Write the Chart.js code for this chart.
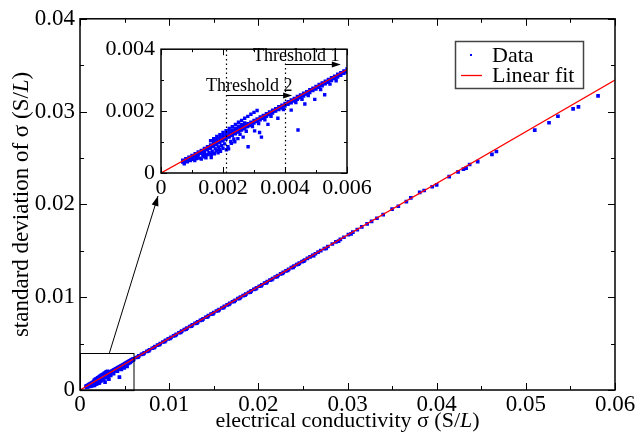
<!DOCTYPE html>
<html lang="en">
<head>
<meta charset="UTF-8">
<title>Conductivity vs standard deviation</title>
<script src="https://cdn.jsdelivr.net/npm/chart.js"></script>
<style>
  body { margin: 0; background: #fff; }
  #wrap { position: relative; width: 637px; height: 438px; }
  #mainCanvas { position: absolute; left: 0; top: 0; }
  #insetCanvas { position: absolute; left: 100px; top: 30px; }
</style>
</head>
<body>
<div id="wrap">
  <canvas id="mainCanvas" width="637" height="438"></canvas>
  <canvas id="insetCanvas" width="280" height="175"></canvas>
</div>
<script>
// ---- data: [sigma, std dev] ----
const bandPoints = [
  [0.0007,0.00041],[0.0007,0.00035],[0.0008,0.00046],[0.0008,0.00040],
  [0.0009,0.00051],[0.0009,0.00045],[0.0010,0.00057],[0.0010,0.00050],
  [0.0011,0.00062],[0.0011,0.00055],[0.0012,0.00068],[0.0012,0.00060],
  [0.0013,0.00073],[0.0013,0.00064],[0.0014,0.00079],[0.0014,0.00070],
  [0.0015,0.00085],[0.0015,0.00075],[0.0016,0.00091],[0.0016,0.00080],
  [0.0017,0.00097],[0.0017,0.00086],[0.0018,0.00103],[0.0018,0.00092],
  [0.0019,0.00109],[0.0019,0.00098],[0.0020,0.00115],[0.0020,0.00104],
  [0.0021,0.00120],[0.0021,0.00110],[0.0022,0.00126],[0.0022,0.00116],
  [0.0023,0.00131],[0.0023,0.00121],[0.0024,0.00137],[0.0024,0.00127],
  [0.0025,0.00142],[0.0025,0.00133],[0.0026,0.00148],[0.0026,0.00139],
  [0.0027,0.00153],[0.0027,0.00144],[0.0028,0.00159],[0.0028,0.00150],
  [0.0029,0.00164],[0.0029,0.00155],[0.0030,0.00170],[0.0030,0.00161],
  [0.0031,0.00175],[0.0031,0.00166],[0.0032,0.00181],[0.0032,0.00172],
  [0.0033,0.00186],[0.0033,0.00177],[0.0034,0.00192],[0.0034,0.00183],
  [0.0035,0.00197],[0.0035,0.00189],[0.0036,0.00203],[0.0036,0.00194],
  [0.0037,0.00208],[0.0037,0.00200],[0.0038,0.00214],[0.0038,0.00205],
  [0.0039,0.00219],[0.0039,0.00211],[0.0040,0.00225],[0.0040,0.00216],
  [0.0041,0.00230],[0.0041,0.00222],[0.0042,0.00236],[0.0042,0.00227],
  [0.0043,0.00241],[0.0043,0.00233],[0.0044,0.00247],[0.0044,0.00238],
  [0.0045,0.00252],[0.0045,0.00244],[0.0046,0.00258],[0.0046,0.00249],
  [0.0047,0.00263],[0.0047,0.00255],[0.0048,0.00269],[0.0048,0.00260],
  [0.0049,0.00274],[0.0049,0.00266],[0.0050,0.00280],[0.0050,0.00271],
  [0.0051,0.00286],[0.0051,0.00277],[0.0052,0.00291],[0.0052,0.00282],
  [0.0053,0.00297],[0.0053,0.00288],[0.0054,0.00302],[0.0054,0.00293],
  [0.0055,0.00308],[0.0055,0.00299],[0.0056,0.00313],[0.0056,0.00305],
  [0.0057,0.00319],[0.0057,0.00310],[0.0058,0.00324],[0.0058,0.00316],
  [0.0059,0.00330],[0.0059,0.00322],[0.0060,0.00336],[0.0060,0.00327]
];
// middle row of the band, on the half steps
const bandHalfPoints = [
  [0.00075,0.00039],[0.00085,0.00044],[0.00095,0.00050],[0.00105,0.00055],
  [0.00115,0.00061],[0.00125,0.00066],[0.00135,0.00072],[0.00145,0.00077],
  [0.00155,0.00083],[0.00165,0.00088],[0.00175,0.00094],[0.00185,0.00100],
  [0.00195,0.00105],[0.00205,0.00111],[0.00215,0.00117],[0.00225,0.00122],
  [0.00235,0.00128],[0.00245,0.00133],[0.00255,0.00139],[0.00265,0.00144],
  [0.00275,0.00150],[0.00285,0.00155],[0.00295,0.00161],[0.00305,0.00167],
  [0.00315,0.00172],[0.00325,0.00178],[0.00335,0.00183],[0.00345,0.00189],
  [0.00355,0.00194],[0.00365,0.00200],[0.00375,0.00206],[0.00385,0.00211],
  [0.00395,0.00217],[0.00405,0.00222],[0.00415,0.00228],[0.00425,0.00233],
  [0.00435,0.00239],[0.00445,0.00244],[0.00455,0.00250],[0.00465,0.00256],
  [0.00475,0.00261],[0.00485,0.00267],[0.00495,0.00272],[0.00505,0.00278],
  [0.00515,0.00283],[0.00525,0.00289],[0.00535,0.00294],[0.00545,0.00300],
  [0.00555,0.00306],[0.00565,0.00311],[0.00575,0.00317],[0.00585,0.00322],
  [0.00595,0.00328]
];
// the upper streak above the fit, between the two thresholds
const streakPoints = [
  [0.0016,0.00104],[0.0017,0.00111],[0.0018,0.00118],[0.0019,0.00124],
  [0.0020,0.00131],[0.0021,0.00137],[0.0022,0.00144],[0.0023,0.00150],
  [0.0024,0.00157],[0.0025,0.00164],[0.0026,0.00170],[0.0027,0.00177],
  [0.0028,0.00183],[0.0029,0.00190],[0.0030,0.00196],[0.0031,0.00202],
  [0.0017,0.00104],[0.0018,0.00110],[0.0019,0.00116],[0.0020,0.00122],
  [0.0021,0.00128],[0.0022,0.00134],[0.0023,0.00139],[0.0024,0.00145],
  [0.0025,0.00151],[0.0026,0.00157],[0.0027,0.00162]
];
// scatter below the fit
const lowPoints = [
  [0.00109,0.00040],[0.00125,0.00048],[0.00141,0.00052],[0.00152,0.00060],
  [0.00162,0.00060],[0.00168,0.00065],[0.00179,0.00072],[0.00189,0.00075],
  [0.00200,0.00080],[0.00211,0.00075],[0.00216,0.00085],[0.00227,0.00096],
  [0.00238,0.00101],[0.00218,0.00078],[0.00281,0.00085],[0.00318,0.00131],
  [0.00324,0.00116],[0.00442,0.00139],[0.00141,0.00060],[0.00119,0.00055],
  [0.00130,0.00045],[0.00162,0.00050],[0.00184,0.00065],[0.00248,0.00111],
  [0.00265,0.00116],[0.00302,0.00136],[0.00345,0.00157],[0.00377,0.00177],
  [0.00420,0.00203],[0.00464,0.00223],[0.00496,0.00238],[0.00528,0.00253],
  [0.00075,0.00030],[0.00085,0.00036],[0.00095,0.00040],[0.00105,0.00044],
  [0.00115,0.00047],[0.00135,0.00055],[0.00145,0.00058],[0.00155,0.00066],
  [0.00165,0.00070],[0.00175,0.00078],[0.00185,0.00084],[0.00195,0.00088],
  [0.00205,0.00094],[0.00145,0.00049],[0.00172,0.00062],[0.00192,0.00070],
  [0.00225,0.00102],[0.00235,0.00110],[0.00255,0.00125],[0.00275,0.00135],
  [0.00295,0.00150],[0.00315,0.00160],[0.00335,0.00172],[0.00355,0.00183],
  [0.00395,0.00205],[0.00435,0.00228],[0.00455,0.00238],[0.00475,0.00250],
  [0.00515,0.00270],[0.00545,0.00287],[0.00565,0.00298]
];
const midPoints = [
  [0.0063,0.00350],[0.0066,0.00367],[0.0069,0.00384],[0.0072,0.00400],
  [0.0075,0.00417],[0.0078,0.00434],[0.0081,0.00450],[0.0084,0.00467],
  [0.0087,0.00484],[0.0090,0.00500],[0.0093,0.00517],[0.0096,0.00534],
  [0.0099,0.00550],[0.0102,0.00567],[0.0105,0.00584],[0.0108,0.00600],
  [0.0111,0.00617],[0.0114,0.00634],[0.0117,0.00651],[0.0120,0.00667],
  [0.0123,0.00684],[0.0126,0.00701],[0.0129,0.00717],[0.0132,0.00734],
  [0.0135,0.00751],[0.0138,0.00767],[0.0141,0.00784],[0.0144,0.00801],
  [0.0147,0.00817],[0.0150,0.00834],[0.0153,0.00851],[0.0156,0.00867],
  [0.0159,0.00884],[0.0162,0.00901],[0.0165,0.00917],[0.0168,0.00934],
  [0.0171,0.00951],[0.0174,0.00967],[0.0177,0.00984],[0.0180,0.01001],
  [0.0183,0.01017],[0.0186,0.01034],[0.0189,0.01051],[0.0192,0.01068],
  [0.0195,0.01084],[0.0198,0.01101],[0.0201,0.01118],[0.0204,0.01134],
  [0.0207,0.01151],[0.0210,0.01168],[0.0213,0.01184],[0.0216,0.01201],
  [0.0219,0.01218],[0.0222,0.01234],[0.0225,0.01251],[0.0228,0.01268],
  [0.0231,0.01284],[0.0234,0.01301],[0.0237,0.01318],[0.0240,0.01334],
  [0.0243,0.01351],[0.0246,0.01368],[0.0249,0.01384],[0.0252,0.01401],
  [0.0255,0.01418],[0.0258,0.01434],[0.0261,0.01451],[0.0264,0.01468],
  [0.0267,0.01485],[0.0270,0.01501],[0.0274,0.01523],[0.0278,0.01546],
  [0.0283,0.01573],[0.0287,0.01596],[0.0292,0.01624],[0.0296,0.01646],
  [0.0301,0.01674],[0.0306,0.01701],[0.0311,0.01729],[0.0316,0.01757],
  [0.0322,0.01790],[0.0327,0.01818],[0.0333,0.01851],[0.0340,0.01890]
];
// a second, slightly lower row that thickens the dense band
const midLowPoints = [
  [0.0065,0.00355],[0.0071,0.00388],[0.0077,0.00422],[0.0083,0.00455],
  [0.0089,0.00488],[0.0095,0.00521],[0.0101,0.00555],[0.0107,0.00588],
  [0.0113,0.00621],[0.0119,0.00655],[0.0125,0.00688],[0.0131,0.00721],
  [0.0137,0.00755],[0.0143,0.00788],[0.0149,0.00821],[0.0155,0.00855],
  [0.0161,0.00888],[0.0167,0.00921],[0.0173,0.00955],[0.0179,0.00988],
  [0.0185,0.01021],[0.0191,0.01055],[0.0197,0.01088],[0.0203,0.01121],
  [0.0209,0.01155],[0.0215,0.01188],[0.0221,0.01221],[0.0227,0.01255],
  [0.0233,0.01288],[0.0239,0.01321],[0.0245,0.01355],[0.0251,0.01388],
  [0.0262,0.01448],[0.0276,0.01525],[0.0290,0.01605],[0.0304,0.01683]
];
const tailPoints = [
  [0.0350,0.0195],[0.0357,0.0198],[0.0366,0.0203],[0.0371,0.0207],
  [0.0381,0.0213],[0.0386,0.0215],[0.0395,0.0219],[0.0400,0.0221],
  [0.0414,0.0230],[0.0424,0.0235],[0.0430,0.0238],[0.0433,0.0239],
  [0.0437,0.0243],[0.0446,0.0246],[0.0462,0.0254],[0.0467,0.0257],
  [0.0510,0.0280],[0.0526,0.0288],[0.0536,0.0295],[0.0553,0.0303],
  [0.0559,0.0305],[0.0581,0.0317]
];
const fitSigma = [0, 0.06];
const fitStd = [0, 0.0334];

// axes
const xTicksMain = [0, 0.01, 0.02, 0.03, 0.04, 0.05, 0.06];
const xLabelsMain = ['0', '0.01', '0.02', '0.03', '0.04', '0.05', '0.06'];
const yTicksMain = [0, 0.01, 0.02, 0.03, 0.04];
const yLabelsMain = ['0', '0.01', '0.02', '0.03', '0.04'];
const xMinorMain = [0.005, 0.015, 0.025, 0.035, 0.045, 0.055];
const yMinorMain = [0.005, 0.015, 0.025, 0.035];
const xTicksInset = [0, 0.002, 0.004, 0.006];
const xLabelsInset = ['0', '0.002', '0.004', '0.006'];
const yTicksInset = [0, 0.002, 0.004];
const yLabelsInset = ['0', '0.002', '0.004'];
const xMinorInset = [0.001, 0.003, 0.005];
const yMinorInset = [0.001, 0.003];
const thresholds = [0.004, 0.0021]; // Threshold 1, Threshold 2

const FONT = '"Liberation Serif", "Times New Roman", serif';

function allData() {
  return [].concat(bandPoints, bandHalfPoints, streakPoints, lowPoints, midPoints, midLowPoints, tailPoints)
    .map(p => ({ x: p[0], y: p[1] }));
}
function fitData() {
  return fitSigma.map((s, i) => ({ x: s, y: fitStd[i] }));
}

function makeDatasets(r) {
  return [
    { label: 'Linear fit', data: fitData(), showLine: true, borderColor: '#ff0000',
      borderWidth: 1.3, pointRadius: 0 },
    { label: 'Data', data: allData(), showLine: false, pointStyle: 'rect',
      pointRadius: r, borderWidth: 0, backgroundColor: '#0000ff', borderColor: '#0000ff' }
  ];
}

// frame + inward ticks on all four sides
function frameTicks(xMaj, xMin, yMaj, yMin, lenMaj, lenMin) {
  return {
    id: 'frameTicks',
    afterDatasetsDraw(chart) {
      const { ctx, chartArea: a, scales: { x, y } } = chart;
      ctx.save();
      ctx.strokeStyle = '#000';
      ctx.lineWidth = 1;
      ctx.beginPath();
      const tx = (v, L) => {
        const p = Math.round(x.getPixelForValue(v)) + 0.5;
        ctx.moveTo(p, a.bottom); ctx.lineTo(p, a.bottom - L);
        ctx.moveTo(p, a.top); ctx.lineTo(p, a.top + L);
      };
      const ty = (v, L) => {
        const p = Math.round(y.getPixelForValue(v)) + 0.5;
        ctx.moveTo(a.left, p); ctx.lineTo(a.left + L, p);
        ctx.moveTo(a.right, p); ctx.lineTo(a.right - L, p);
      };
      xMaj.forEach(v => tx(v, lenMaj));
      xMin.forEach(v => tx(v, lenMin));
      yMaj.forEach(v => ty(v, lenMaj));
      yMin.forEach(v => ty(v, lenMin));
      ctx.stroke();
      ctx.lineWidth = 1.5;
      ctx.strokeRect(a.left, a.top, a.right - a.left, a.bottom - a.top);
      ctx.restore();
    }
  };
}

function arrowHead(ctx, x0, y0, x1, y1, len, half) {
  const ang = Math.atan2(y1 - y0, x1 - x0);
  ctx.beginPath();
  ctx.moveTo(x1, y1);
  ctx.lineTo(x1 - len * Math.cos(ang) + half * Math.sin(ang), y1 - len * Math.sin(ang) - half * Math.cos(ang));
  ctx.lineTo(x1 - len * Math.cos(ang) - half * Math.sin(ang), y1 - len * Math.sin(ang) + half * Math.cos(ang));
  ctx.closePath();
  ctx.fill();
}

// text with an italic L inside "(S/L)"
function drawUnitText(ctx, before, size) {
  const up = size + 'px ' + FONT, it = 'italic ' + size + 'px ' + FONT;
  const parts = [[before + ' (S/', up], ['L', it], [')', up]];
  let w = 0;
  parts.forEach(p => { ctx.font = p[1]; w += ctx.measureText(p[0]).width; });
  let cx = -w / 2;
  parts.forEach(p => { ctx.font = p[1]; ctx.fillText(p[0], cx, 0); cx += ctx.measureText(p[0]).width; });
}

const mainDecor = {
  id: 'mainDecor',
  afterDraw(chart) {
    const { ctx, chartArea: a, scales: { x, y } } = chart;
    ctx.save();
    ctx.fillStyle = '#000';
    ctx.textBaseline = 'middle';
    ctx.textAlign = 'left';
    // axis titles
    ctx.save();
    ctx.translate((a.left + a.right) / 2, 421);
    drawUnitText(ctx, 'electrical conductivity σ', 22);
    ctx.restore();
    ctx.save();
    ctx.translate(22, (a.top + a.bottom) / 2);
    ctx.rotate(-Math.PI / 2);
    drawUnitText(ctx, 'standard deviation of σ', 23);
    ctx.restore();

    // zoom box
    const bx0 = x.getPixelForValue(xTicksInset[0]), bx1 = x.getPixelForValue(xTicksInset[3]);
    const by0 = y.getPixelForValue(yTicksInset[0]), by1 = y.getPixelForValue(yTicksInset[2]);
    ctx.strokeStyle = '#000';
    ctx.lineWidth = 1;
    ctx.strokeRect(Math.round(bx0) + 0.5, Math.round(by1) + 0.5, bx1 - bx0, by0 - by1);
    // arrow to inset
    const sx = x.getPixelForValue(0.0033), sy = by1;
    const ex = 158, ey = 196;
    ctx.beginPath(); ctx.moveTo(sx, sy); ctx.lineTo(ex, ey); ctx.stroke();
    arrowHead(ctx, sx, sy, ex, ey, 10, 3.5);

    // legend
    ctx.strokeStyle = '#444';
    ctx.lineWidth = 1.5;
    ctx.strokeRect(455.5, 41.5, 128, 47);
    const dsFit = chart.data.datasets[0], dsData = chart.data.datasets[1];
    ctx.fillStyle = dsData.backgroundColor;
    ctx.fillRect(470, 54, 2, 2);
    ctx.strokeStyle = dsFit.borderColor;
    ctx.lineWidth = 1.3;
    ctx.beginPath(); ctx.moveTo(461, 75.5); ctx.lineTo(482, 75.5); ctx.stroke();
    ctx.fillStyle = '#000';
    ctx.font = '22px ' + FONT;
    ctx.fillText(dsData.label, 492, 56);
    ctx.fillText(dsFit.label, 492, 76);
    ctx.restore();
  }
};

const insetDecor = {
  id: 'insetDecor',
  afterDatasetsDraw(chart) {
    const { ctx, chartArea: a, scales: { x, y } } = chart;
    ctx.save();
    ctx.strokeStyle = '#000';
    ctx.fillStyle = '#000';
    ctx.lineWidth = 1.2;
    ctx.setLineDash([1.5, 3]);
    thresholds.forEach(t => {
      const p = Math.round(x.getPixelForValue(t)) + 0.5;
      ctx.beginPath(); ctx.moveTo(p, a.bottom); ctx.lineTo(p, a.top); ctx.stroke();
    });
    ctx.setLineDash([]);
    ctx.lineWidth = 1;
    // Threshold arrows
    const arrows = [
      { from: thresholds[0], to: 0.0058, at: 0.00352, text: 'Threshold 1', tx: 0.00436, ty: 0.00362 },
      { from: thresholds[1], to: 0.00423, at: 0.00253, text: 'Threshold 2', tx: 0.00285, ty: 0.00266 }
    ];
    ctx.font = '18px ' + FONT;
    ctx.textAlign = 'center';
    ctx.textBaseline = 'alphabetic';
    arrows.forEach(ar => {
      const x0 = x.getPixelForValue(ar.from), x1 = x.getPixelForValue(ar.to);
      const yy = Math.round(y.getPixelForValue(ar.at)) + 0.5;
      ctx.beginPath(); ctx.moveTo(x0, yy); ctx.lineTo(x1 - 4, yy); ctx.stroke();
      arrowHead(ctx, x0, yy, x1, yy, 9, 3);
      ctx.fillText(ar.text, x.getPixelForValue(ar.tx), y.getPixelForValue(ar.ty));
    });
    ctx.restore();
  }
};

function scaleOpts(min, max, ticksArr, labels, fontSize, pad, fitProp, fitVal) {
  return {
    type: 'linear', min: min, max: max,
    grid: { display: false, drawTicks: false },
    border: { display: false },
    afterBuildTicks: s => { s.ticks = ticksArr.map(v => ({ value: v })); },
    afterFit: s => { s[fitProp] = fitVal; },
    ticks: {
      autoSkip: false, maxRotation: 0, padding: pad, color: '#000',
      font: { family: FONT, size: fontSize },
      callback: (v, i) => labels[i]
    }
  };
}

new Chart(document.getElementById('mainCanvas'), {
  type: 'scatter',
  data: { datasets: makeDatasets(2.6) },
  options: {
    responsive: false, animation: false, events: [],
    layout: { padding: { left: 0, top: 14, right: 22, bottom: 0 } },
    plugins: { legend: { display: false }, tooltip: { enabled: false } },
    scales: {
      x: scaleOpts(0, 0.06, xTicksMain, xLabelsMain, 23, 1, 'height', 48),
      y: scaleOpts(0, 0.04, yTicksMain, yLabelsMain, 23, 5, 'width', 80)
    }
  },
  plugins: [frameTicks(xTicksMain, xMinorMain, yTicksMain, yMinorMain, 7, 4), mainDecor]
});

new Chart(document.getElementById('insetCanvas'), {
  type: 'scatter',
  data: { datasets: makeDatasets(2.4) },
  options: {
    responsive: false, animation: false, events: [],
    layout: { padding: { left: 0, top: 12, right: 33, bottom: 0 } },
    plugins: { legend: { display: false }, tooltip: { enabled: false } },
    scales: {
      x: scaleOpts(0, 0.006, xTicksInset, xLabelsInset, 22, 2, 'height', 32),
      y: scaleOpts(0, 0.004, yTicksInset, yLabelsInset, 22, 6, 'width', 61)
    }
  },
  plugins: [frameTicks(xTicksInset, xMinorInset, yTicksInset, yMinorInset, 6, 3), insetDecor]
});
</script>
</body>
</html>
